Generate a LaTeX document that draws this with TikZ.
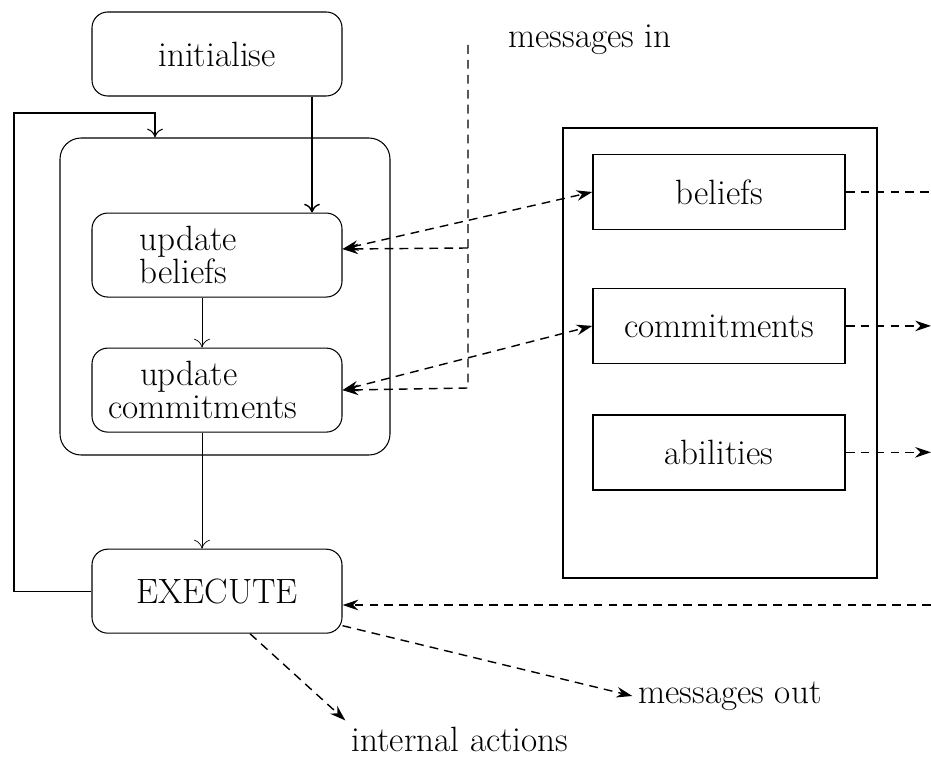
\documentclass[tikz,border=0pt]{standalone}
\usepackage{tikz}
\usetikzlibrary{arrows,arrows.meta,shapes,positioning,calc}

\tikzset{
  stage/.style={draw, semithick, rounded corners=9pt, minimum width=5cm, minimum height=1.68cm, font=\fontsize{20}{19}\selectfont},
  slot/.style={draw, thick, minimum width=5.04cm, minimum height=1.5cm, font=\fontsize{20}{19}\selectfont},
  tag/.style={font=\fontsize{20}{19}\selectfont},
  msg/.style={thick, dash pattern=on 5pt off 3.5pt, >={Stealth[length=9pt,width=6pt]}}
}

\begin{document}
\begin{tikzpicture}[node distance=2.32cm, >={To[length=5pt,width=9pt]}]
\useasboundingbox (0,0) rectangle (18.62,-15.16);
\node[draw, semithick, rounded corners=12pt, minimum width=6.6cm, minimum height=6.34cm] (cycle) at (4.5,-5.93) {};
\node[stage] (init) at (4.34,-1.08) {initialise};
\node[stage, align=left, text width=3.1cm, below=2.32cm of init] (ub) {update\\beliefs};
\node[stage, align=left, text width=4.36cm, below=1cm of ub] (uc) {\hspace*{0.64cm}update\\commitments};
\node[stage, below=2.32cm of uc] (exec) {EXECUTE};

\node[draw, thick, minimum width=6.28cm, minimum height=9cm] (store) at (14.4,-7.06) {};
\node[slot] (bel) at (14.38,-3.84) {beliefs};
\node[slot, below=1.15cm of bel] (com) {commitments};
\node[slot, below=1cm of com] (abl) {abilities};

\node[tag] (msgin) at (11.8,-0.8) {messages in};
\node[tag] (msgout) at (14.6,-13.92) {messages out};
\node[tag] (intact) at (9.2,-14.78) {internal actions};

\coordinate (edge) at (18.62,0);
\coordinate (inTop) at (9.36,-0.9);
\coordinate (inUb) at (9.36,-4.96);
\coordinate (inUc) at (9.36,-7.76);
\coordinate (back) at (0.28,-2.26);
\coordinate (backTop) at (3.1,-2.26);
\coordinate (execIn) at (18.62,-12.1);

\draw[->, semithick] (exec.west) -| (back) -- (backTop) -- (backTop |- cycle.north);
\draw[->, thick] ([xshift=1.9cm]init.south) -- ([xshift=1.9cm]ub.north);
\draw[->] ([xshift=-0.3cm]ub.south) -- ([xshift=-0.3cm]uc.north);
\draw[->] ([xshift=-0.3cm]uc.south) -- ([xshift=-0.3cm]exec.north);

\draw[msg, ->] (inTop) -- (inUc) -- (uc.east);
\draw[msg, ->] (inUb) -- ([yshift=0.12cm]ub.east);
\draw[msg, <->] ([yshift=0.12cm]ub.east) -- (bel.west);
\draw[msg, <->] (uc.east) -- (com.west);

\draw[msg] (bel.east) -- (bel.east -| edge);
\draw[msg, ->] (com.east) -- (com.east -| edge);
\draw[msg, ->] (abl.east) -- (abl.east -| edge);
\draw[msg, ->] (execIn) -- (execIn -| exec.east);
\draw[msg, ->] ([yshift=0.16cm]exec.south east) -- (msgout.west);
\draw[msg, ->] ([xshift=0.66cm]exec.south) -- (intact.north west);
\end{tikzpicture}
\end{document}
